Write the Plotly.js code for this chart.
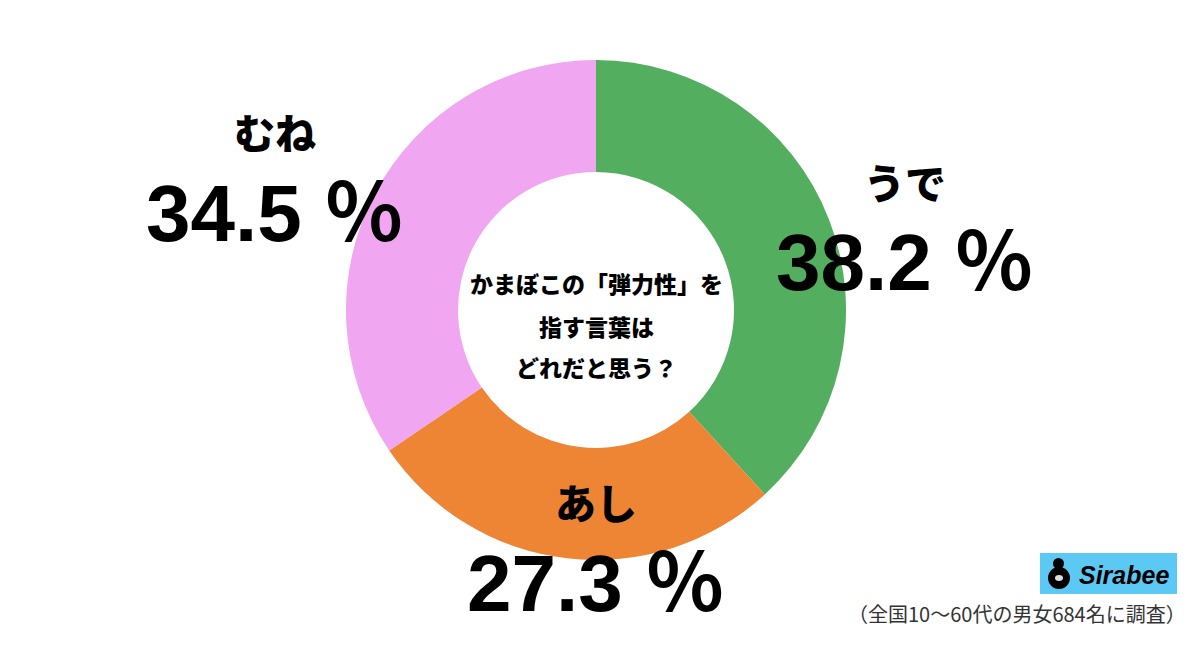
<!DOCTYPE html>
<html><head><meta charset="utf-8">
<script src="https://cdn.plot.ly/plotly-3.0.1.min.js"></script>
<style>html,body{margin:0;padding:0;background:#fff}#c{width:1200px;height:645px}</style>
</head><body><div id="c"></div>
<script>
const categories = ['うで', 'あし', 'むね'];
const values = [38.2, 27.3, 34.5];
const colors = ['#53AE5F', '#EE8535', '#F0A6F0'];
const valueLabels = ['38.2 ％', '27.3 ％', '34.5 ％'];
const centerLines = ['かまぼこの「弾力性」を', '指す言葉は', 'どれだと思う？'];
const footnote = '（全国10〜60代の男女684名に調査）';

const W = 1200, H = 645;
const px = x => x / W, py = y => 1 - y / H;
const cx = 596, cy = 310, R = 250;

const labelPos = [[905, 181, 905, 262], [596, 501, 596, 583], [275, 131, 275, 213]];
const jpFont = '"Noto Sans CJK JP", sans-serif';
const numFont = '"Liberation Sans", Arial, "Noto Sans CJK JP", sans-serif';

const annotations = [];
categories.forEach((c, i) => {
  const p = labelPos[i];
  annotations.push({x: px(p[0]), y: py(p[1]), xref: 'paper', yref: 'paper', text: c, showarrow: false,
    font: {family: jpFont, size: 41, color: '#000', weight: 900}, xanchor: 'center', yanchor: 'middle'});
  annotations.push({x: px(p[2]), y: py(p[3]), xref: 'paper', yref: 'paper', text: '<b>' + valueLabels[i] + '</b>', showarrow: false,
    font: {family: numFont, size: 80, color: '#000'}, xanchor: 'center', yanchor: 'middle'});
});
const centerY = [283, 326, 367];
centerLines.forEach((t, i) => {
  annotations.push({x: px(cx), y: py(centerY[i]), xref: 'paper', yref: 'paper', text: t, showarrow: false,
    font: {family: jpFont, size: 23, color: '#000', weight: 900}, xanchor: 'center', yanchor: 'middle'});
});
annotations.push({x: px(1188), y: py(613), xref: 'paper', yref: 'paper', text: footnote, showarrow: false,
  font: {family: jpFont, size: 20, color: '#333'}, xanchor: 'right', yanchor: 'middle'});
annotations.push({x: px(1124), y: py(575), xref: 'paper', yref: 'paper', text: '<b><i>Sirabee</i></b>', showarrow: false,
  font: {family: '"Liberation Sans", Arial, sans-serif', size: 25, color: '#000'}, xanchor: 'center', yanchor: 'middle'});

const shapes = [
  {type: 'rect', xref: 'paper', yref: 'paper', x0: px(1040), x1: px(1177), y0: py(594), y1: py(553), fillcolor: '#5CC8F4', line: {width: 0}},
  {type: 'circle', xref: 'paper', yref: 'paper', x0: px(1048), x1: px(1070), y0: py(589), y1: py(567), fillcolor: '#000', line: {width: 0}},
  {type: 'circle', xref: 'paper', yref: 'paper', x0: px(1053), x1: px(1064), y0: py(569), y1: py(558), fillcolor: '#000', line: {width: 0}},
  {type: 'circle', xref: 'paper', yref: 'paper', x0: px(1055), x1: px(1063), y0: py(581), y1: py(575), fillcolor: '#ddd', line: {width: 0}}
];

const data = [{
  type: 'pie', labels: categories, values: values, sort: false, direction: 'clockwise', rotation: 0,
  hole: 0.552, marker: {colors: colors, line: {width: 0}}, textinfo: 'none', hoverinfo: 'none', showlegend: false,
  domain: {x: [px(cx - R), px(cx + R)], y: [py(cy + R), py(cy - R)]}
}];
const layout = {width: W, height: H, margin: {l: 0, r: 0, t: 0, b: 0}, paper_bgcolor: '#fff', plot_bgcolor: '#fff',
  annotations: annotations, shapes: shapes, showlegend: false};
Plotly.newPlot('c', data, layout, {displayModeBar: false, staticPlot: true});
</script></body></html>
